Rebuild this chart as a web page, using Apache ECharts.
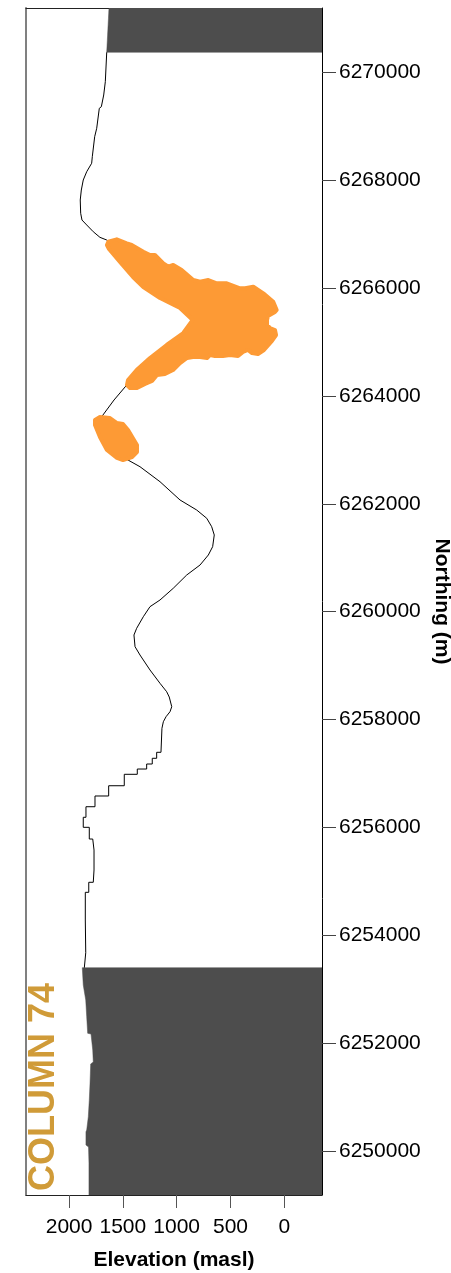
<!DOCTYPE html>
<html>
<head>
<meta charset="utf-8">
<title>Column 74 – elevation profile</title>
<script src="https://cdn.jsdelivr.net/npm/echarts@6/dist/echarts.min.js"></script>
<style>
  html, body { margin: 0; padding: 0; background: #ffffff; }
  #chart { width: 451px; height: 1273px; }
</style>
</head>
<body>
<div id="chart"></div>
<script>
// Axis extents (elevation in metres above sea level, northing in metres)
const elevRange = [-350, 2400];
const northRange = [6249184, 6271192];

// Tick values shown on each axis
const elevTicks = [0, 500, 1000, 1500, 2000];
const northTicks = [6250000, 6252000, 6254000, 6256000, 6258000, 6260000,
                    6262000, 6264000, 6266000, 6268000, 6270000];

// Ground surface along the column, north to south: [elevation, northing]
const surfaceProfile = [
  [1650, 6270371], [1663, 6269826], [1669, 6269796], [1678, 6269579], [1694, 6269547],
  [1700, 6269362], [1719, 6269332], [1743, 6268962], [1762, 6268806], [1784, 6268435],
  [1790, 6268313], [1836, 6268157], [1868, 6268003], [1886, 6267817], [1896, 6267632],
  [1892, 6267386], [1880, 6267261], [1836, 6267169], [1775, 6267044], [1713, 6266940],
  [1650, 6266890], [1573, 6266761], [1434, 6266557], [1248, 6266297], [1062, 6266019],
  [876, 6265778], [644, 6265555], [458, 6265407], [644, 6265222], [876, 6265036],
  [1109, 6264758], [1294, 6264480], [1434, 6264276], [1464, 6264202], [1582, 6263924],
  [1697, 6263614], [1666, 6263368], [1545, 6263034], [1464, 6262824], [1341, 6262687],
  [1155, 6262409], [969, 6262070], [814, 6261884], [721, 6261731], [675, 6261575],
  [651, 6261421], [666, 6261204], [706, 6261050], [783, 6260865], [907, 6260679],
  [1032, 6260433], [1155, 6260216], [1248, 6260092], [1310, 6259906], [1372, 6259691],
  [1397, 6259567], [1387, 6259350], [1341, 6259196], [1248, 6258918], [1155, 6258671],
  [1093, 6258515], [1069, 6258417], [1046, 6258237], [1062, 6258145], [1099, 6258052],
  [1124, 6257959], [1137, 6257837], [1146, 6257392], [1186, 6257392], [1186, 6257281],
  [1227, 6257281], [1227, 6257175], [1279, 6257175], [1279, 6257082], [1366, 6257082],
  [1366, 6256984], [1487, 6256984], [1487, 6256772], [1632, 6256772], [1632, 6256582],
  [1759, 6256582], [1759, 6256383], [1843, 6256383], [1843, 6256187], [1868, 6256187],
  [1868, 6256001], [1812, 6256001], [1812, 6255784], [1780, 6255784], [1768, 6255580],
  [1768, 6255210], [1775, 6255210], [1775, 6254982], [1817, 6254982], [1817, 6254796],
  [1849, 6254796], [1849, 6254283], [1845, 6253676], [1858, 6253676], [1858, 6253398]
];

// Ground surface where the column is masked (north end and south end)
const maskedNorth = [[1629, 6271192], [1650, 6270371]];
const maskedSouth = [
  [1877, 6253398], [1868, 6253077], [1845, 6252799], [1836, 6252490], [1827, 6252182],
  [1796, 6252169], [1780, 6251872], [1775, 6251650], [1799, 6251613], [1805, 6251260],
  [1812, 6250945], [1821, 6250636], [1836, 6250389], [1843, 6250357], [1843, 6250111],
  [1819, 6250074], [1815, 6249777], [1815, 6249184]
];

// Outlines of the two orange bodies: [elevation, northing]
const orangeBodyNorth = [
  [1635, 6266859], [1557, 6266903], [1464, 6266829], [1418, 6266798], [1310, 6266674],
  [1248, 6266612], [1202, 6266612], [1124, 6266458], [1078, 6266395], [1032, 6266427],
  [954, 6266334], [846, 6266149], [783, 6266117], [706, 6266149], [628, 6266088],
  [535, 6266088], [412, 6265995], [365, 6265995], [288, 6266025], [195, 6265902],
  [103, 6265746], [71, 6265593], [87, 6265555], [152, 6265481], [161, 6265407],
  [161, 6265315], [133, 6265259], [87, 6265222], [77, 6265129], [115, 6265018],
  [189, 6264851], [245, 6264777], [300, 6264795], [338, 6264851], [384, 6264814],
  [430, 6264740], [505, 6264758], [570, 6264740], [644, 6264740], [691, 6264758],
  [718, 6264703], [783, 6264721], [849, 6264721], [904, 6264703], [969, 6264610],
  [1034, 6264480], [1109, 6264406], [1183, 6264387], [1229, 6264276], [1294, 6264221],
  [1369, 6264146], [1434, 6264146], [1462, 6264202], [1452, 6264295], [1372, 6264480],
  [1248, 6264703], [1093, 6264944], [939, 6265166], [851, 6265407], [969, 6265630],
  [1155, 6265815], [1310, 6266019], [1406, 6266205], [1527, 6266483], [1629, 6266724],
  [1648, 6266798]
];
const orangeBodySouth = [
  [1759, 6263553], [1713, 6263609], [1620, 6263590], [1555, 6263497], [1499, 6263479],
  [1452, 6263368], [1369, 6263090], [1369, 6262960], [1415, 6262867], [1499, 6262811],
  [1555, 6262849], [1648, 6262997], [1713, 6263238], [1759, 6263460]
];

const FONT = "'Liberation Sans', Arial, Helvetica, sans-serif";
const MASK_COLOR = '#4d4d4d';
const ORANGE = '#fd9a35';

// Polygon filling from the ground surface eastwards to the axis edge
function maskPolygon(edge) {
  const nHigh = edge[0][1];
  const nLow = edge[edge.length - 1][1];
  return edge.concat([[elevRange[0], nLow], [elevRange[0], nHigh]]);
}

function polygonSeries(points, fill, stroke, lineWidth, z) {
  return {
    type: 'custom',
    coordinateSystem: 'cartesian2d',
    xAxisIndex: 0,
    yAxisIndex: 0,
    clip: true,
    silent: true,
    z: z,
    encode: { x: 0, y: 1 },
    data: points,
    renderItem: function (params, api) {
      if (params.dataIndex !== 0) return null;
      const pts = points.map(function (p) { return api.coord(p); });
      return {
        type: 'polygon',
        shape: { points: pts },
        style: { fill: fill, stroke: stroke, lineWidth: lineWidth, lineJoin: 'round' }
      };
    }
  };
}

const plainNumber = function (v) { return String(v); };

const chart = echarts.init(document.getElementById('chart'), null, { renderer: 'canvas' });

chart.setOption({
  animation: false,
  backgroundColor: '#ffffff',
  textStyle: { fontFamily: FONT },
  grid: { left: 26, right: 129, top: 8, bottom: 78, containLabel: false, outerBoundsMode: 'none' },
  xAxis: [
    {
      type: 'value', min: elevRange[0], max: elevRange[1], inverse: true, position: 'bottom',
      name: 'Elevation (masl)', nameLocation: 'middle', nameGap: 55,
      nameTextStyle: { fontFamily: FONT, fontSize: 21, fontWeight: 'bold', color: '#000' },
      axisLine: { show: true, onZero: false, lineStyle: { color: '#222', width: 1 } },
      axisTick: { show: true, customValues: elevTicks, length: 13, lineStyle: { color: '#555', width: 1 } },
      axisLabel: { show: true, customValues: elevTicks, formatter: plainNumber, hideOverlap: false,
                   fontFamily: FONT, fontSize: 21, color: '#000', margin: 22 },
      splitLine: { show: false }
    },
    {
      type: 'value', min: elevRange[0], max: elevRange[1], inverse: true, position: 'top',
      axisLine: { show: true, onZero: false, lineStyle: { color: '#222', width: 1 } },
      axisTick: { show: false }, axisLabel: { show: false }, splitLine: { show: false }
    }
  ],
  yAxis: [
    {
      type: 'value', min: northRange[0], max: northRange[1], position: 'right',
      name: 'Northing (m)', nameLocation: 'middle', nameRotate: -90, nameGap: 109,
      nameTextStyle: { fontFamily: FONT, fontSize: 21, fontWeight: 'bold', color: '#000' },
      axisLine: { show: true, onZero: false, lineStyle: { color: '#000', width: 1 } },
      axisTick: { show: true, customValues: northTicks, length: 14, lineStyle: { color: '#444', width: 1 } },
      axisLabel: { show: true, customValues: northTicks, formatter: plainNumber, hideOverlap: false,
                   fontFamily: FONT, fontSize: 21, color: '#000', margin: 17 },
      splitLine: { show: false }
    },
    {
      type: 'value', min: northRange[0], max: northRange[1], position: 'left',
      axisLine: { show: true, onZero: false, lineStyle: { color: '#808080', width: 2 } },
      axisTick: { show: false }, axisLabel: { show: false }, splitLine: { show: false }
    }
  ],
  series: [
    polygonSeries(maskPolygon(maskedNorth), MASK_COLOR, MASK_COLOR, 0.5, 2),
    polygonSeries(maskPolygon(maskedSouth), MASK_COLOR, MASK_COLOR, 0.5, 2),
    {
      type: 'line',
      xAxisIndex: 0, yAxisIndex: 0,
      data: surfaceProfile,
      symbol: 'none',
      silent: true,
      z: 3,
      lineStyle: { color: '#000', width: 1 }
    },
    polygonSeries(orangeBodyNorth, ORANGE, ORANGE, 4, 4),
    polygonSeries(orangeBodySouth, ORANGE, ORANGE, 4, 4)
  ],
  graphic: [
    {
      type: 'text',
      x: 44, y: 1087,
      rotation: Math.PI / 2,
      z: 10,
      style: {
        text: 'COLUMN 74',
        font: 'bold 36px ' + FONT,
        fill: '#d09b38',
        textAlign: 'center',
        textVerticalAlign: 'middle'
      }
    }
  ]
});
</script>
</body>
</html>
